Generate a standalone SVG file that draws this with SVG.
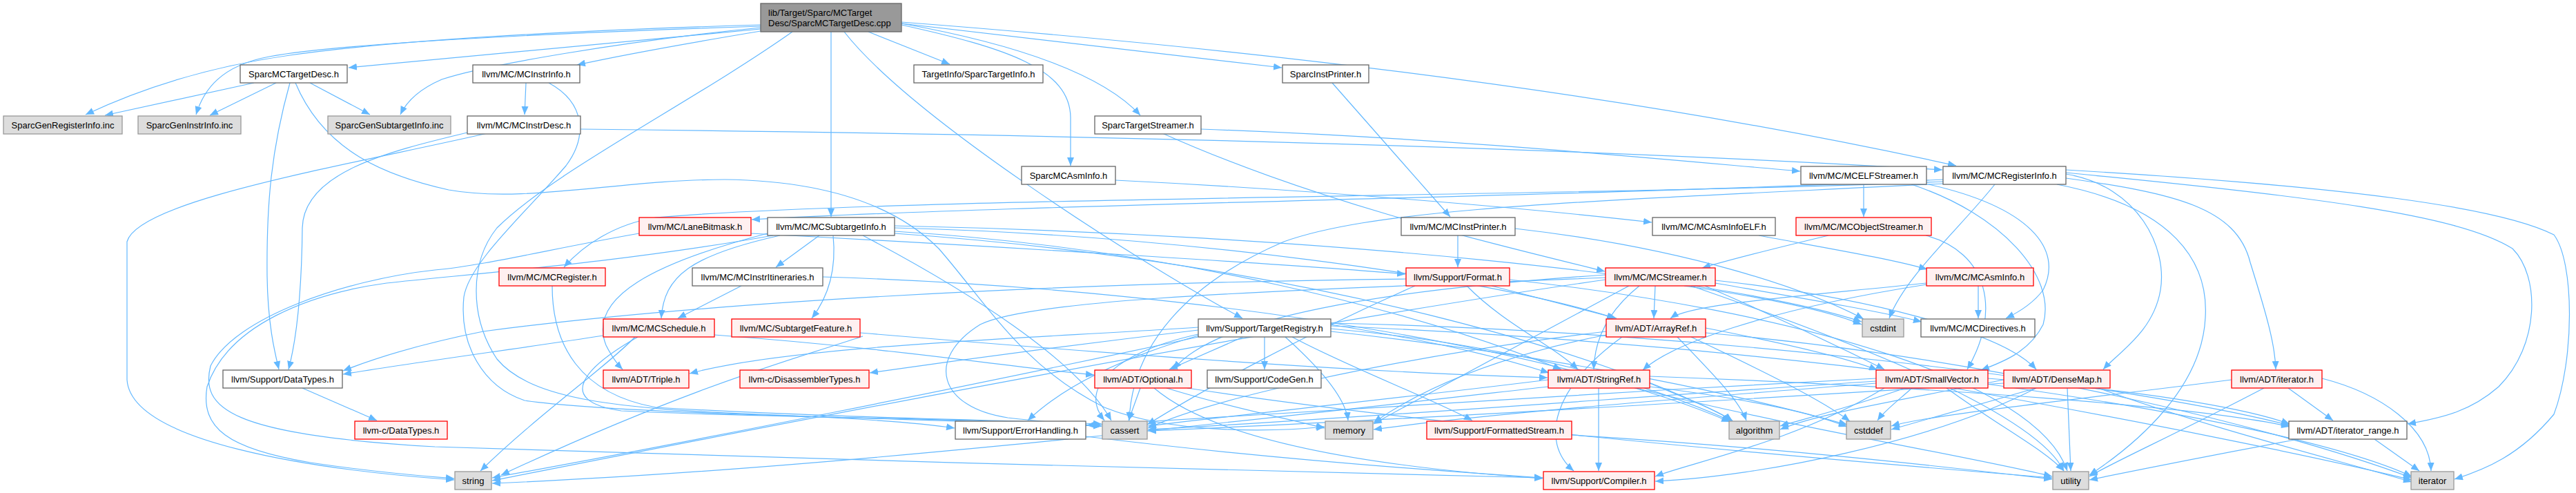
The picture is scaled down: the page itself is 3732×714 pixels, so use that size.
<svg xmlns="http://www.w3.org/2000/svg" width="3732" height="714" viewBox="0 0 3732 714">
<defs>
<marker id="a" viewBox="0 0 12 10" refX="12" refY="5" markerWidth="12" markerHeight="10" markerUnits="userSpaceOnUse" orient="auto"><path d="M0,0 L12,5 L0,10 z" fill="#63b8ff"/></marker>
<style>
rect{stroke-width:1.3}
.n rect{fill:#ffffff;stroke:#666666}
.r rect{fill:#fff0f0;stroke:#ff0000}
.g rect{fill:#dddddd;stroke:#999999}
.t rect{fill:#999999;stroke:#666666}
text{font-family:"Liberation Sans",Arial,Helvetica,sans-serif;font-size:13px;fill:#000000;text-anchor:middle}
.t text{text-anchor:start}
#edges path{fill:none;stroke:#63b8ff;stroke-width:1.2;marker-end:url(#a)}
</style>
</defs>
<rect width="3732" height="714" fill="#ffffff"/>
<g id="edges">
<path d="M1102,36 C800,45 560,60 420,80 C300,97 200,130 124,166"/>
<path d="M1102,38 C800,48 500,62 390,82 C320,95 295,130 284,166"/>
<path d="M1102,40 C900,60 700,95 640,115 C610,128 590,145 580,166"/>
<path d="M1102,42 C900,60 700,78 505,98"/>
<path d="M1102,45 C1000,62 900,80 836,94"/>
<path d="M1204,46 L1204,314"/>
<path d="M1258,46 L1376,93"/>
<path d="M1306,36 C1460,70 1550,100 1551,170 L1551,240"/>
<path d="M1306,34 C1480,65 1600,110 1652,167"/>
<path d="M1306,34 L1857,98"/>
<path d="M1306,32 Q2200,100 2834,240"/>
<path d="M1223,46 C1320,170 1650,380 1800,461"/>
<path d="M1148,46 C1000,150 800,250 720,330 C680,380 680,460 720,520 C770,580 900,592 1100,600 C1250,606 1330,612 1383,620"/>
<path d="M368,120 L152,167"/>
<path d="M400,120 L304,167"/>
<path d="M449,120 L536,166"/>
<path d="M420,120 C392,220 386,300 387,400 C388,470 398,510 404,535"/>
<path d="M428,120 C470,220 560,255 650,275 C760,295 900,260 1050,260 C1200,262 1300,300 1360,360 C1430,440 1480,530 1600,590 C1700,630 1850,625 1919,618"/>
<path d="M762,120 L760,166"/>
<path d="M795,120 C850,150 850,200 820,240 C760,310 680,380 672,430 C665,500 700,560 760,580 C900,600 1300,605 1596,617"/>
<path d="M841,187 C1600,195 2300,215 2814,246"/>
<path d="M677,192 C560,220 440,250 438,330 C437,420 430,490 418,535"/>
<path d="M706,193 C500,240 200,290 184,350 L184,550 C190,640 450,680 658,695"/>
<path d="M1930,120 L2101,314"/>
<path d="M1616,261 C1900,275 2200,300 2393,322"/>
<path d="M1740,187 C2100,200 2400,230 2608,248"/>
<path d="M1684,193 C1900,290 2150,350 2325,393"/>
<path d="M1187,341 L1124,387"/>
<path d="M1130,341 C1000,370 962,400 958,461"/>
<path d="M1207,341 C1212,390 1200,430 1176,461"/>
<path d="M1112,338 C950,380 850,430 878,500 C888,520 895,528 902,535"/>
<path d="M1296,330 C1700,340 2150,400 2340,461"/>
<path d="M1296,335 C1700,360 2050,450 2262,535"/>
<path d="M1296,338 C1900,380 2350,520 2510,609"/>
<path d="M1250,341 C1400,420 1560,520 1610,609"/>
<path d="M1296,327 C1900,340 2500,400 2697,466"/>
<path d="M1120,341 C900,380 700,395 560,410 C450,425 330,470 300,560 C290,620 330,650 450,670 C550,685 620,690 658,693"/>
<path d="M1074,414 L982,461"/>
<path d="M1192,401 C1800,420 2300,520 2506,611"/>
<path d="M1035,485 C1300,505 1450,530 1585,543"/>
<path d="M874,486 C750,505 600,525 497,542"/>
<path d="M924,488 C850,530 800,580 900,595 C1100,605 1400,605 1596,617"/>
<path d="M920,488 C880,530 780,600 696,682"/>
<path d="M1250,487 C1150,520 1000,560 726,688"/>
<path d="M1246,482 C1700,520 2000,540 2242,547"/>
<path d="M1832,488 L1832,535"/>
<path d="M1801,488 L1694,535"/>
<path d="M1736,486 C1620,520 1540,560 1489,609"/>
<path d="M1736,484 C1620,510 1560,560 1600,609"/>
<path d="M1736,478 C1550,500 1400,520 1260,540"/>
<path d="M1736,474 C1500,490 1150,500 999,541"/>
<path d="M1862,488 C1920,540 1950,580 1953,609"/>
<path d="M1872,488 C1950,530 2080,580 2133,609"/>
<path d="M1928,470 C2050,490 2150,510 2244,540"/>
<path d="M1928,476 C2200,500 2400,560 2508,610"/>
<path d="M1928,480 C2300,520 2550,580 2676,615"/>
<path d="M1928,472 C2600,500 3300,600 3494,690"/>
<path d="M1736,488 C1400,560 1000,640 713,692"/>
<path d="M1928,468 C2500,480 3100,560 3317,616"/>
<path d="M1652,562 L1635,609"/>
<path d="M1672,562 C1740,620 1900,670 2235,693"/>
<path d="M1690,562 C1780,590 1860,605 1919,620"/>
<path d="M1720,562 C2100,620 2700,670 2973,692"/>
<path d="M1573,632 C1800,660 2050,680 2235,692"/>
<path d="M2161,414 L2342,461"/>
<path d="M2125,414 C2180,470 2250,500 2286,535"/>
<path d="M2037,404 C1500,410 1000,440 700,480 C600,500 540,520 497,537"/>
<path d="M2050,414 C1900,480 1750,560 1662,615"/>
<path d="M2187,405 C2600,450 2950,550 2995,682"/>
<path d="M2398,414 L2396,461"/>
<path d="M2375,414 C2330,450 2310,490 2309,535"/>
<path d="M2360,414 C2200,500 2050,580 1990,614"/>
<path d="M2440,414 C2550,430 2650,450 2697,470"/>
<path d="M2485,410 C2600,430 2720,450 2784,466"/>
<path d="M2470,414 C2600,470 2680,510 2730,535"/>
<path d="M2485,406 C2700,430 2900,480 2950,535"/>
<path d="M2326,398 C2000,420 1760,460 1700,535"/>
<path d="M2326,402 C1900,420 1500,430 1420,470 C1340,520 1360,590 1460,605 C1520,612 1560,614 1596,617"/>
<path d="M2326,405 C1800,480 1000,640 713,696"/>
<path d="M2450,414 C2700,500 2950,600 2990,682"/>
<path d="M2471,475 C2600,500 2680,520 2720,536"/>
<path d="M2350,488 C2250,560 2230,640 2280,682"/>
<path d="M2430,488 C2480,540 2520,580 2530,609"/>
<path d="M2327,480 C2000,520 1750,580 1663,620"/>
<path d="M2450,488 C2560,540 2640,580 2680,610"/>
<path d="M2471,482 C2900,520 3300,620 3494,692"/>
<path d="M2327,485 C2150,520 2050,570 1990,612"/>
<path d="M2316,562 L2316,682"/>
<path d="M2390,545 C2800,560 3200,590 3317,618"/>
<path d="M2390,555 C2450,580 2490,595 2510,610"/>
<path d="M2243,550 C2000,580 1800,600 1663,617"/>
<path d="M2390,560 C2550,580 2630,600 2676,618"/>
<path d="M2243,560 C1800,610 1200,680 713,700"/>
<path d="M2370,562 C2600,620 2850,660 2973,690"/>
<path d="M2880,548 C3100,565 3250,590 3317,614"/>
<path d="M2730,562 C2600,640 2450,670 2398,690"/>
<path d="M2718,548 C2300,570 1800,600 1574,616"/>
<path d="M2760,562 C2680,590 2620,605 2579,617"/>
<path d="M2718,552 C2300,580 1900,610 1663,622"/>
<path d="M2770,562 C2750,580 2730,595 2720,609"/>
<path d="M2830,562 C3100,610 3350,660 3494,695"/>
<path d="M2718,555 C2400,580 2150,600 1990,622"/>
<path d="M2820,562 C2900,620 2960,650 2990,682"/>
<path d="M2950,562 C2800,640 2550,690 2398,697"/>
<path d="M2903,550 C2750,580 2630,600 2579,622"/>
<path d="M2903,555 C2500,580 2000,610 1663,624"/>
<path d="M2950,562 C2850,590 2780,610 2740,622"/>
<path d="M3040,562 C3200,620 3400,670 3494,698"/>
<path d="M2995,562 L3000,682"/>
<path d="M3315,562 L3380,609"/>
<path d="M3364,548 C3450,570 3520,620 3522,682"/>
<path d="M3233,550 C3000,580 2800,600 2740,617"/>
<path d="M3280,562 C3150,630 3060,670 3027,690"/>
<path d="M3440,636 L3505,682"/>
<path d="M3330,636 C3200,660 3100,680 3027,695"/>
<path d="M2277,630 C2600,650 2850,680 2973,694"/>
<path d="M2112,341 L2112,387"/>
<path d="M2195,331 C2450,360 2620,420 2700,462"/>
<path d="M2548,341 C2650,360 2740,375 2792,390"/>
<path d="M2866,414 L2866,461"/>
<path d="M2791,410 C2600,430 2450,440 2420,461"/>
<path d="M2791,412 C2550,450 2420,500 2380,536"/>
<path d="M2700,267 L2700,314"/>
<path d="M2769,267 C2900,310 2980,400 2960,470 C2940,510 2900,525 2870,536"/>
<path d="M2794,267 C2940,300 2990,360 2960,420 C2945,440 2925,452 2906,461"/>
<path d="M2649,341 C2570,360 2510,375 2466,388"/>
<path d="M2790,341 C2880,365 2900,450 2850,535"/>
<path d="M2890,267 C2840,330 2760,400 2737,461"/>
<path d="M2815,260 C2300,285 1500,295 1089,318"/>
<path d="M2815,263 C2300,285 1300,285 950,315 C890,325 845,355 817,387"/>
<path d="M2815,266 C2300,292 2000,300 1860,350 C1720,410 1640,500 1636,609"/>
<path d="M2993,252 C3100,270 3140,360 3130,420 C3120,480 3070,510 3047,535"/>
<path d="M2993,258 C3150,280 3240,300 3260,380 C3285,460 3296,500 3297,535"/>
<path d="M2993,250 C3350,285 3560,310 3640,360 C3680,400 3680,500 3620,560 C3580,595 3540,605 3488,614"/>
<path d="M2993,246 C3400,270 3620,300 3700,340 C3730,380 3730,520 3700,600 C3650,660 3600,680 3556,694"/>
<path d="M2980,267 C3150,300 3200,380 3195,460 C3190,560 3100,640 3027,688"/>
<path d="M438,562 L546,609"/>
<path d="M1088,338 C1500,360 1900,385 2036,397"/>
<path d="M926,338 C800,360 700,385 630,391 C500,405 340,460 305,530 C290,590 330,630 630,647 C1100,665 1800,680 2235,692"/>
<path d="M800,414 C800,500 840,570 950,590 C1200,605 1450,608 1596,614"/>
</g>
<g id="n_top" class="t"><rect x="1102" y="5" width="204" height="41"/><text x="1113" y="23">lib/Target/Sparc/MCTarget</text><text x="1113" y="38">Desc/SparcMCTargetDesc.cpp</text></g>
<g id="n_smtd" class="n"><rect x="348" y="94" width="155" height="26"/><text x="425.5" y="111.5">SparcMCTargetDesc.h</text></g>
<g id="n_sgri" class="g"><rect x="5" y="168" width="172" height="26"/><text x="91" y="185.5">SparcGenRegisterInfo.inc</text></g>
<g id="n_sgii" class="g"><rect x="200" y="168" width="149" height="26"/><text x="274.5" y="185.5">SparcGenInstrInfo.inc</text></g>
<g id="n_sgsi" class="g"><rect x="475" y="168" width="178" height="26"/><text x="564" y="185.5">SparcGenSubtargetInfo.inc</text></g>
<g id="n_mii" class="n"><rect x="685" y="94" width="155" height="26"/><text x="762.5" y="111.5">llvm/MC/MCInstrInfo.h</text></g>
<g id="n_mid" class="n"><rect x="677" y="168" width="164" height="26"/><text x="759" y="185.5">llvm/MC/MCInstrDesc.h</text></g>
<g id="n_lbm" class="r"><rect x="926" y="315" width="162" height="26"/><text x="1007" y="332.5">llvm/MC/LaneBitmask.h</text></g>
<g id="n_msi" class="n"><rect x="1112" y="315" width="184" height="26"/><text x="1204" y="332.5">llvm/MC/MCSubtargetInfo.h</text></g>
<g id="n_sti" class="n"><rect x="1324" y="94" width="187" height="26"/><text x="1417.5" y="111.5">TargetInfo/SparcTargetInfo.h</text></g>
<g id="n_sts" class="n"><rect x="1586" y="168" width="154" height="26"/><text x="1663" y="185.5">SparcTargetStreamer.h</text></g>
<g id="n_smai" class="n"><rect x="1480" y="241" width="136" height="26"/><text x="1548" y="258.5">SparcMCAsmInfo.h</text></g>
<g id="n_sip" class="n"><rect x="1858" y="94" width="125" height="26"/><text x="1920.5" y="111.5">SparcInstPrinter.h</text></g>
<g id="n_mip" class="n"><rect x="2030" y="315" width="165" height="26"/><text x="2112.5" y="332.5">llvm/MC/MCInstPrinter.h</text></g>
<g id="n_maie" class="n"><rect x="2394" y="315" width="178" height="26"/><text x="2483" y="332.5">llvm/MC/MCAsmInfoELF.h</text></g>
<g id="n_melf" class="n"><rect x="2609" y="241" width="182" height="26"/><text x="2700" y="258.5">llvm/MC/MCELFStreamer.h</text></g>
<g id="n_mri" class="n"><rect x="2815" y="241" width="178" height="26"/><text x="2904" y="258.5">llvm/MC/MCRegisterInfo.h</text></g>
<g id="n_mos" class="r"><rect x="2602" y="315" width="196" height="26"/><text x="2700" y="332.5">llvm/MC/MCObjectStreamer.h</text></g>
<g id="n_sdt" class="n"><rect x="323" y="536" width="173" height="26"/><text x="409.5" y="553.5">llvm/Support/DataTypes.h</text></g>
<g id="n_cdt" class="r"><rect x="514" y="610" width="134" height="26"/><text x="581" y="627.5">llvm-c/DataTypes.h</text></g>
<g id="n_mr" class="r"><rect x="723" y="388" width="154" height="26"/><text x="800" y="405.5">llvm/MC/MCRegister.h</text></g>
<g id="n_mit" class="n"><rect x="1003" y="388" width="189" height="26"/><text x="1097.5" y="405.5">llvm/MC/MCInstrItineraries.h</text></g>
<g id="n_ms" class="r"><rect x="874" y="462" width="161" height="26"/><text x="954.5" y="479.5">llvm/MC/MCSchedule.h</text></g>
<g id="n_sf" class="r"><rect x="1060" y="462" width="186" height="26"/><text x="1153" y="479.5">llvm/MC/SubtargetFeature.h</text></g>
<g id="n_tr" class="r"><rect x="874" y="536" width="124" height="26"/><text x="936" y="553.5">llvm/ADT/Triple.h</text></g>
<g id="n_dis" class="r"><rect x="1072" y="536" width="187" height="26"/><text x="1165.5" y="553.5">llvm-c/DisassemblerTypes.h</text></g>
<g id="n_str" class="g"><rect x="659" y="683" width="53" height="26"/><text x="685.5" y="700.5">string</text></g>
<g id="n_treg" class="n"><rect x="1736" y="462" width="192" height="26"/><text x="1832" y="479.5">llvm/Support/TargetRegistry.h</text></g>
<g id="n_opt" class="r"><rect x="1586" y="536" width="140" height="26"/><text x="1656" y="553.5">llvm/ADT/Optional.h</text></g>
<g id="n_cg" class="n"><rect x="1749" y="536" width="165" height="26"/><text x="1831.5" y="553.5">llvm/Support/CodeGen.h</text></g>
<g id="n_eh" class="n"><rect x="1384" y="610" width="189" height="26"/><text x="1478.5" y="627.5">llvm/Support/ErrorHandling.h</text></g>
<g id="n_ca" class="g"><rect x="1597" y="610" width="65" height="26"/><text x="1629.5" y="627.5">cassert</text></g>
<g id="n_fmt" class="r"><rect x="2037" y="388" width="150" height="26"/><text x="2112" y="405.5">llvm/Support/Format.h</text></g>
<g id="n_mst" class="r"><rect x="2326" y="388" width="159" height="26"/><text x="2405.5" y="405.5">llvm/MC/MCStreamer.h</text></g>
<g id="n_ar" class="r"><rect x="2327" y="462" width="144" height="26"/><text x="2399" y="479.5">llvm/ADT/ArrayRef.h</text></g>
<g id="n_sr" class="r"><rect x="2243" y="536" width="147" height="26"/><text x="2316.5" y="553.5">llvm/ADT/StringRef.h</text></g>
<g id="n_mem" class="g"><rect x="1920" y="610" width="69" height="26"/><text x="1954.5" y="627.5">memory</text></g>
<g id="n_fs" class="r"><rect x="2067" y="610" width="210" height="26"/><text x="2172" y="627.5">llvm/Support/FormattedStream.h</text></g>
<g id="n_cmp" class="r"><rect x="2236" y="683" width="161" height="26"/><text x="2316.5" y="700.5">llvm/Support/Compiler.h</text></g>
<g id="n_mai" class="r"><rect x="2791" y="388" width="155" height="26"/><text x="2868.5" y="405.5">llvm/MC/MCAsmInfo.h</text></g>
<g id="n_ci" class="g"><rect x="2698" y="462" width="60" height="26"/><text x="2728" y="479.5">cstdint</text></g>
<g id="n_mdir" class="n"><rect x="2783" y="462" width="165" height="26"/><text x="2865.5" y="479.5">llvm/MC/MCDirectives.h</text></g>
<g id="n_sv" class="r"><rect x="2718" y="536" width="162" height="26"/><text x="2799" y="553.5">llvm/ADT/SmallVector.h</text></g>
<g id="n_dm" class="r"><rect x="2903" y="536" width="154" height="26"/><text x="2980" y="553.5">llvm/ADT/DenseMap.h</text></g>
<g id="n_alg" class="g"><rect x="2505" y="610" width="73" height="26"/><text x="2541.5" y="627.5">algorithm</text></g>
<g id="n_cd" class="g"><rect x="2675" y="610" width="64" height="26"/><text x="2707" y="627.5">cstddef</text></g>
<g id="n_ut" class="g"><rect x="2974" y="683" width="52" height="26"/><text x="3000" y="700.5">utility</text></g>
<g id="n_ith" class="r"><rect x="3233" y="536" width="131" height="26"/><text x="3298.5" y="553.5">llvm/ADT/iterator.h</text></g>
<g id="n_itr" class="n"><rect x="3316" y="610" width="171" height="26"/><text x="3401.5" y="627.5">llvm/ADT/iterator_range.h</text></g>
<g id="n_it" class="g"><rect x="3493" y="683" width="62" height="26"/><text x="3524" y="700.5">iterator</text></g>
</svg>
